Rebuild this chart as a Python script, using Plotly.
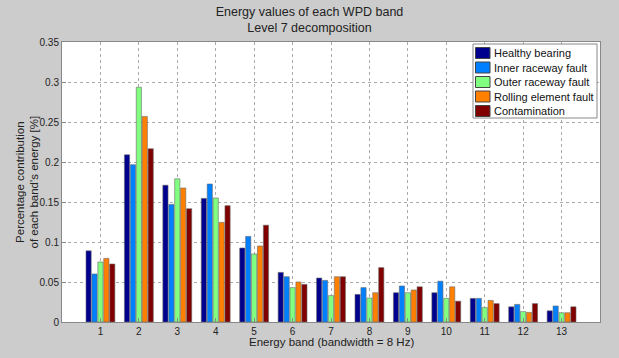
import plotly.graph_objects as go

bands = list(range(1, 14))
healthy = [0.089, 0.209, 0.171, 0.1545, 0.0925, 0.062, 0.055, 0.0345, 0.0366, 0.0366, 0.0295, 0.019, 0.014]
inner = [0.060, 0.1966, 0.147, 0.1725, 0.107, 0.0566, 0.052, 0.043, 0.045, 0.051, 0.0295, 0.022, 0.020]
outer = [0.075, 0.2934, 0.179, 0.155, 0.085, 0.043, 0.033, 0.030, 0.0366, 0.0295, 0.018, 0.013, 0.0116]
rolling = [0.0795, 0.257, 0.1675, 0.1245, 0.095, 0.050, 0.0566, 0.0366, 0.040, 0.044, 0.027, 0.012, 0.0116]
contam = [0.0725, 0.2166, 0.1416, 0.1454, 0.121, 0.047, 0.0566, 0.068, 0.044, 0.026, 0.023, 0.023, 0.019]

series_names = ["Healthy bearing", "Inner raceway fault", "Outer raceway fault",
                "Rolling element fault", "Contamination"]
series_values = [healthy, inner, outer, rolling, contam]
series_colors = ["#00008F", "#0080FF", "#80FF80", "#FF7F00", "#800000"]

y_ticks = [0, 0.05, 0.1, 0.15, 0.2, 0.25, 0.3, 0.35]
y_labels = ["0", "0.05", "0.1", "0.15", "0.2", "0.25", "0.3", "0.35"]

W, H = 619, 358
ML, MR, MT, MB = 62, 19, 42, 36
PW, PH = W - ML - MR, H - MT - MB

def px_x(p):
    return (p - ML) / PW

def px_y(p):
    return (H - MB - p) / PH

fig = go.Figure()
for name, vals, col in zip(series_names, series_values, series_colors):
    fig.add_trace(go.Bar(x=bands, y=vals, name=name, showlegend=False,
                         marker=dict(color=col, line=dict(color="#6a6a6a", width=0.6))))

font = "Liberation Sans, Arial, sans-serif"

# legend drawn as a box with swatches
shapes = [dict(type="rect", xref="paper", yref="paper",
               x0=px_x(473), x1=px_x(597), y0=px_y(118), y1=px_y(44),
               fillcolor="white", line=dict(color="#888", width=1), layer="above")]
annotations = []
for i, (name, col) in enumerate(zip(series_names, series_colors)):
    cy = 53 + i * 14.5
    shapes.append(dict(type="rect", xref="paper", yref="paper",
                       x0=px_x(475.5), x1=px_x(490), y0=px_y(cy + 5.5), y1=px_y(cy - 5.5),
                       fillcolor=col, line=dict(color="#444", width=1), layer="above"))
    annotations.append(dict(text=name, xref="paper", yref="paper",
                            x=px_x(491.5), y=px_y(cy), xanchor="left", yanchor="middle",
                            showarrow=False, font=dict(family=font, size=11, color="#111")))

annotations += [
    dict(text="Energy band (bandwidth = 8 Hz)", xref="paper", yref="paper",
         x=0.5, y=0, yshift=-20, xanchor="center", yanchor="middle",
         showarrow=False, font=dict(family=font, size=11.5, color="#222")),
    dict(text="Percentage contribution<br>of each band's energy [%]", xref="paper", yref="paper",
         x=0, y=0.5, xshift=-35.5, xanchor="center", yanchor="middle", textangle=-90,
         showarrow=False, font=dict(family=font, size=11.5, color="#222")),
]

fig.update_layout(
    width=W, height=H,
    margin=dict(l=ML, r=MR, t=MT, b=MB, autoexpand=False),
    paper_bgcolor="#CCCCCC",
    plot_bgcolor="white",
    barmode="group",
    bargap=0.23,
    bargroupgap=0.12,
    font=dict(family=font, size=10, color="#222"),
    title=dict(text="Energy values of each WPD band<br>Level 7 decomposition",
               x=0.5, xanchor="center", y=0.955, yanchor="middle",
               font=dict(family=font, size=12.5, color="#222")),
    showlegend=False,
    shapes=shapes,
    annotations=annotations,
)
fig.update_xaxes(range=[0, 14], tickvals=bands, ticktext=[str(b) for b in bands],
                 showgrid=True, gridcolor="#aaa", griddash="dot", gridwidth=1,
                 showline=True, linecolor="#888", mirror=True,
                 ticks="inside", ticklen=4, tickcolor="#888", automargin=False,
                 zeroline=False)
fig.update_yaxes(range=[0, 0.35], tickvals=y_ticks, ticktext=y_labels,
                 showgrid=True, gridcolor="#aaa", griddash="dot", gridwidth=1,
                 showline=True, linecolor="#888", mirror=True,
                 ticks="inside", ticklen=4, tickcolor="#888", automargin=False,
                 zeroline=False)

fig.write_html("out.html", config={"displayModeBar": False},
               post_script="document.body.style.margin='0';document.body.style.background='#CCCCCC';")
